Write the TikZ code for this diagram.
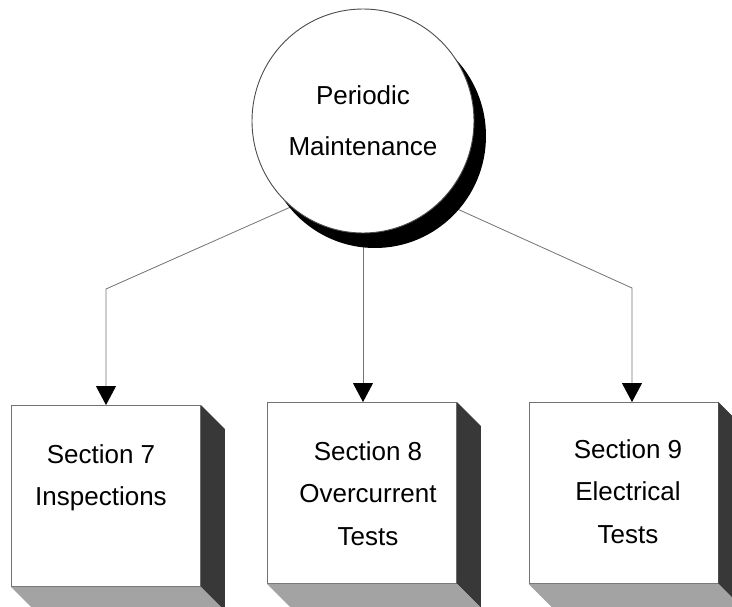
\documentclass[tikz,border=0pt]{standalone}
\usepackage{fontspec}
\setmainfont{Liberation Sans}
\usetikzlibrary{arrows.meta,shapes.geometric,shadows,backgrounds,calc}

\definecolor{sidegray}{gray}{0.22}
\definecolor{basegray}{gray}{0.64}
\definecolor{edgegray}{gray}{0.45}

\tikzset{
	box/.style={draw=edgegray,fill=white,line width=0.9pt,minimum width=189pt,minimum height=181pt,inner sep=0pt},
	boxtext/.style={align=center,anchor=north,inner sep=0pt,font=\fontsize{26}{42.5}\selectfont},
	link/.style={draw=edgegray,line width=0.8pt,-{Triangle[width=20pt,length=19pt,color=black]}},
}

\begin{document}
\begin{tikzpicture}[x=1pt,y=-1pt]

\useasboundingbox (0,0) rectangle (732,607);

\node [ellipse,draw=black!70,fill=white,line width=0.9pt,minimum width=222pt,minimum height=224pt,
	drop shadow={shadow xshift=12pt,shadow yshift=-15pt,fill=black,opacity=1},
	align=center,font=\fontsize{26}{51}\selectfont] (pm) at (363,121) {Periodic\\Maintenance};

\node [box] (s7) at (106,496) {};
\node [box] (s8) at (362,493) {};
\node [box] (s9) at (623.5,493) {};

\foreach \s in {s7,s8,s9} {
	\fill [sidegray] (\s.north east) -- ++(24,24) -- ($(\s.south east)+(24,24)$) -- (\s.south east) -- cycle;
	\fill [basegray] (\s.south west) -- (\s.south east) -- ++(24,24) -- ($(\s.south west)+(24,24)$) -- cycle;
}

\node [boxtext] (t7) at (101,444) {Section 7\\Inspections};
\node [boxtext] (t8) at (368,441) {Section 8\\Overcurrent\\Tests};
\node [boxtext] (t9) at (628,439) {Section 9\\Electrical\\Tests};

\coordinate (k7) at (106,289);
\coordinate (k9) at (632,288);

\begin{pgfonlayer}{background}
\fill [white] (0,0) rectangle (732,607);
\draw [link] (pm.230) -- (k7) -- (k7 |- s7.north);
\draw [link] (pm.south) -- (pm.south |- s8.north);
\draw [link] (pm.314) -- (k9) -- (k9 |- s9.north);
\end{pgfonlayer}

\end{tikzpicture}
\end{document}
